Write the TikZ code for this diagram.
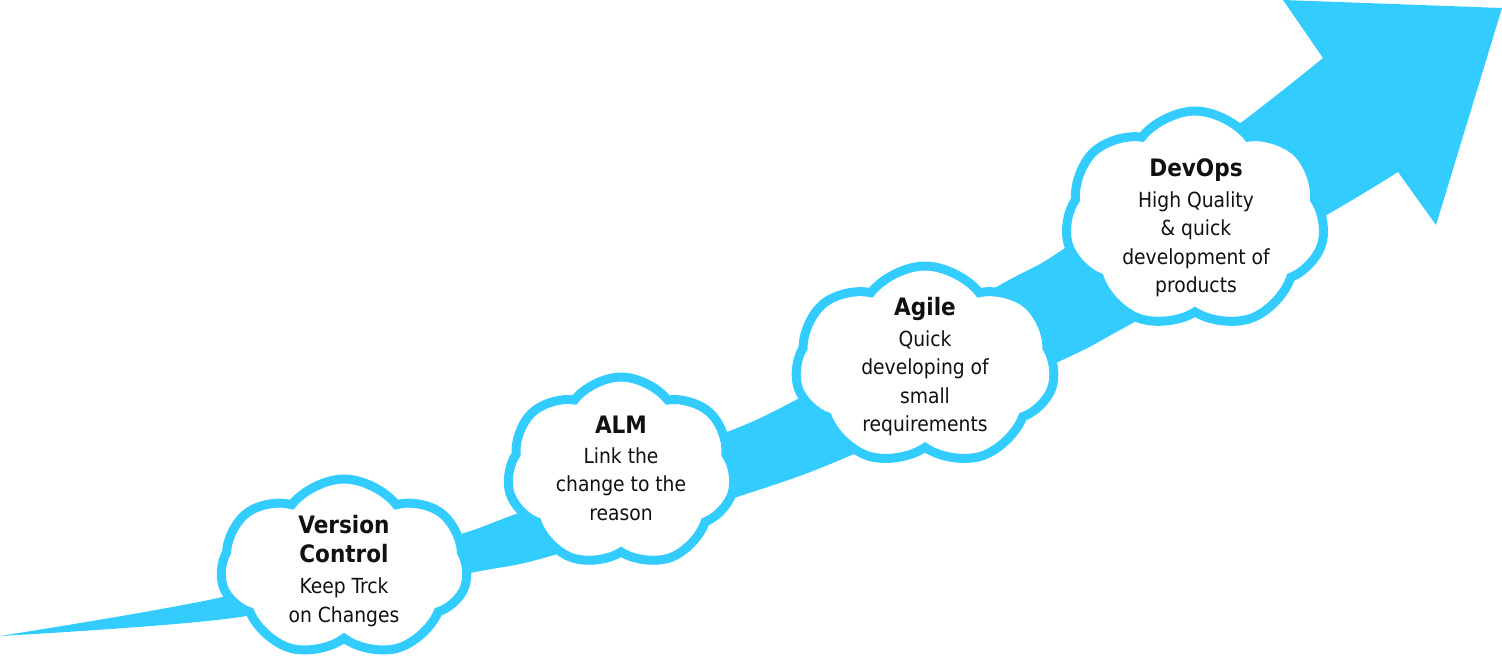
\documentclass[tikz,border=0pt]{standalone}
\usepackage{fontspec}
\setmainfont{DejaVu Sans Condensed}
\usetikzlibrary{shapes.symbols}
\definecolor{arrowc}{RGB}{51,204,255}
\definecolor{txtc}{RGB}{17,17,17}
\tikzset{
  cloudbox/.style={cloud, cloud puffs=7, cloud puff arc=105, cloud ignores aspect,
    draw=arrowc, line width=9pt, fill=white},
  cloudtxt/.style={align=center, text=txtc, inner sep=0pt,
    font=\fontsize{20.8}{28.5}\selectfont},
}
\newcommand{\cttl}[1]{{\fontsize{24}{30}\selectfont\bfseries #1}}
\begin{document}
\begin{tikzpicture}[x=1pt,y=-1pt]
\useasboundingbox (0,0) rectangle (1502,662);
% the growth arrow
\fill[arrowc] plot[smooth, tension=0.5] coordinates {(0,636) (218,598) (440,540) (513,515) (707,440) (792,402) (1000,285) (1062,250) (1235,127) (1323,58)}
  -- (1283,0) -- (1502,8) -- (1436,225) -- (1398,172)
  -- plot[smooth, tension=0.5] coordinates {(1398,172) (1323,217) (1120,330) (1058,362) (840,460) (737,497) (547,557) (470,573) (233,618) (0,636)} -- cycle;
% clouds
\node[cloudbox, minimum width=247pt, minimum height=178pt] (vc) at (344,568) {};
\node[cloudbox, minimum width=228pt, minimum height=190pt] (alm) at (621,472) {};
\node[cloudbox, minimum width=260pt, minimum height=200pt] (agile) at (925,366) {};
\node[cloudbox, minimum width=260pt, minimum height=218pt] (devops) at (1195,220) {};
% texts
\node[cloudtxt] (vct) at (344,571) {\cttl{Version}\\[0pt]\cttl{Control}\\[3pt]Keep Trck\\on Changes};
\node[cloudtxt] (almt) at (621,468) {\cttl{ALM}\\[1.5pt]Link the\\change to the\\reason};
\node[cloudtxt] (agilet) at (925,367) {\cttl{Agile}\\[2pt]Quick\\developing of\\small\\requirements};
\node[cloudtxt] (devopst) at (1196,228) {\cttl{DevOps}\\[2pt]High Quality\\\& quick\\development of\\products};
\end{tikzpicture}
\end{document}
